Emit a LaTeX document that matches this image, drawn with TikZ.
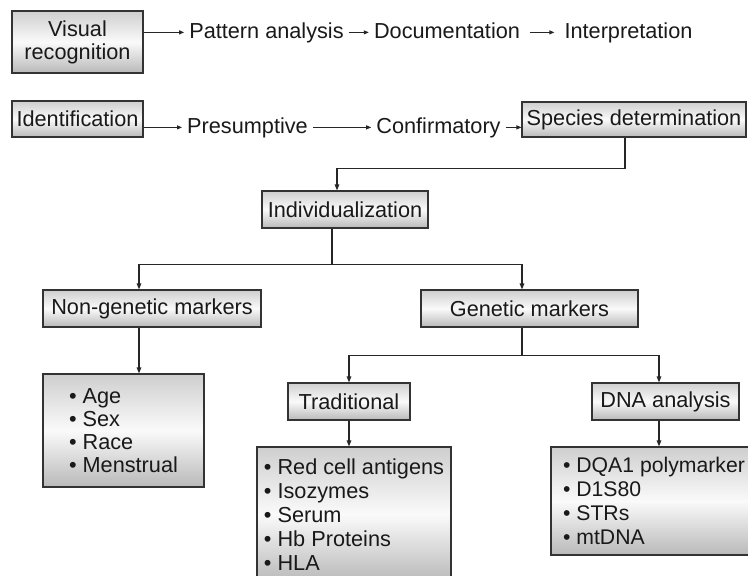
\documentclass[tikz,border=0pt]{standalone}
\usepackage{fontspec}
\setmainfont{Liberation Sans}
\usetikzlibrary{arrows.meta,calc}
\begin{document}
\begin{tikzpicture}[x=1pt,y=-1pt,
  box/.style={draw=black!80, line width=1.1pt, top color=gray!38, bottom color=gray!55, middle color=gray!4, inner sep=0pt, text=black!90, font=\fontsize{21.7}{23}\selectfont, align=center},
  listbox/.style={box, align=left, font=\fontsize{21.7}{24}\selectfont},
  lbl/.style={inner xsep=5pt, inner ysep=0pt, text=black!90, font=\fontsize{21.7}{23}\selectfont, anchor=base},
  conn/.style={line width=1.3pt, black!85},
  arr/.style={conn, -{Triangle[length=6pt,width=4.5pt]}},
  tarr/.style={line width=1pt, black!85, -{Triangle[length=5pt,width=4pt]}},
]
\useasboundingbox (0,0) rectangle (748,576);
\clip (0,0) rectangle (748,576);

% row 1
\node[box, minimum width=131pt, minimum height=62pt] (visual) at (77.5,42) {Visual\\recognition};
\node[lbl] (pattern) at (266.5,38) {Pattern analysis};
\node[lbl] (doc) at (447,38) {Documentation};
\node[lbl] (interp) at (628.5,38) {Interpretation};
\draw[tarr] (visual.east |- pattern.west) -- (pattern.west);
\draw[tarr] (pattern.east) -- (pattern.east -| doc.west);
\draw[tarr, shorten <=5pt, shorten >=5pt] (doc.east |- pattern.west) -- (interp.west |- pattern.west);

% row 2
\node[box, minimum width=131pt, minimum height=36pt] (ident) at (77.5,119) {Identification};
\node[lbl] (pres) at (247.5,133) {Presumptive};
\node[lbl] (conf) at (438.5,133) {Confirmatory};
\node[box, minimum width=224pt, minimum height=35pt] (species) at (634,119.5) {Species determination};
\draw[tarr] (ident.east |- pres.west) -- (pres.west);
\draw[tarr] (pres.east) -- (pres.east -| conf.west);
\draw[tarr] (conf.east |- pres.west) -- (species.west |- pres.west);

% tree
\node[box, minimum width=166pt, minimum height=37pt] (indiv) at (345,209.5) {Individualization};
\draw[arr] ([xshift=-9pt]species.south) -- ++(0,31) -| ([xshift=-8pt]indiv.north);

\node[box, minimum width=218pt, minimum height=37pt] (nongen) at (152,308.5) {Non-genetic markers};
\node[box, minimum width=217pt, minimum height=37pt] (gen) at (529.5,308.5) {Genetic markers};
\coordinate (j1) at ($([xshift=-13pt]indiv.south)+(0,36)$);
\draw[conn] ([xshift=-13pt]indiv.south) -- (j1);
\draw[arr] (j1) -| ([xshift=-13pt]nongen.north);
\draw[arr] (j1) -| ([xshift=-7.5pt]gen.north);

\node[listbox, font=\fontsize{21.7}{23}\selectfont, minimum width=161pt, minimum height=113pt] (age) at (123.5,430.5) {• Age\\• Sex\\• Race\\• Menstrual};
\draw[arr] ([xshift=-13pt]nongen.south) -- ([xshift=-13pt]nongen.south |- age.north);

\node[box, minimum width=122pt, minimum height=37pt] (trad) at (349,401.5) {Traditional};
\node[box, minimum width=147pt, minimum height=37pt] (dna) at (665.5,401.5) {DNA analysis};
\coordinate (j2) at ($([xshift=-7.5pt]gen.south)+(0,28)$);
\draw[conn] ([xshift=-7.5pt]gen.south) -- (j2);
\draw[arr] (j2) -| (trad.north);
\draw[arr] (j2) -| ([xshift=-6.5pt]dna.north);

\node[listbox, minimum width=194pt, minimum height=135pt] (red) at (354,514.5) {• Red cell antigens\\• Isozymes\\• Serum\\• Hb Proteins\\• HLA};
\node[listbox, font=\fontsize{21.2}{24}\selectfont, minimum width=206pt, minimum height=108pt] (dqa) at (654,501) {• DQA1 polymarker\\• D1S80\\• STRs\\• mtDNA};
\draw[arr] ([xshift=-6.5pt]dna.south) -- ([xshift=-6.5pt]dna.south |- dqa.north);
\draw[arr] (trad.south) -- (trad.south |- red.north);
\end{tikzpicture}
\end{document}
